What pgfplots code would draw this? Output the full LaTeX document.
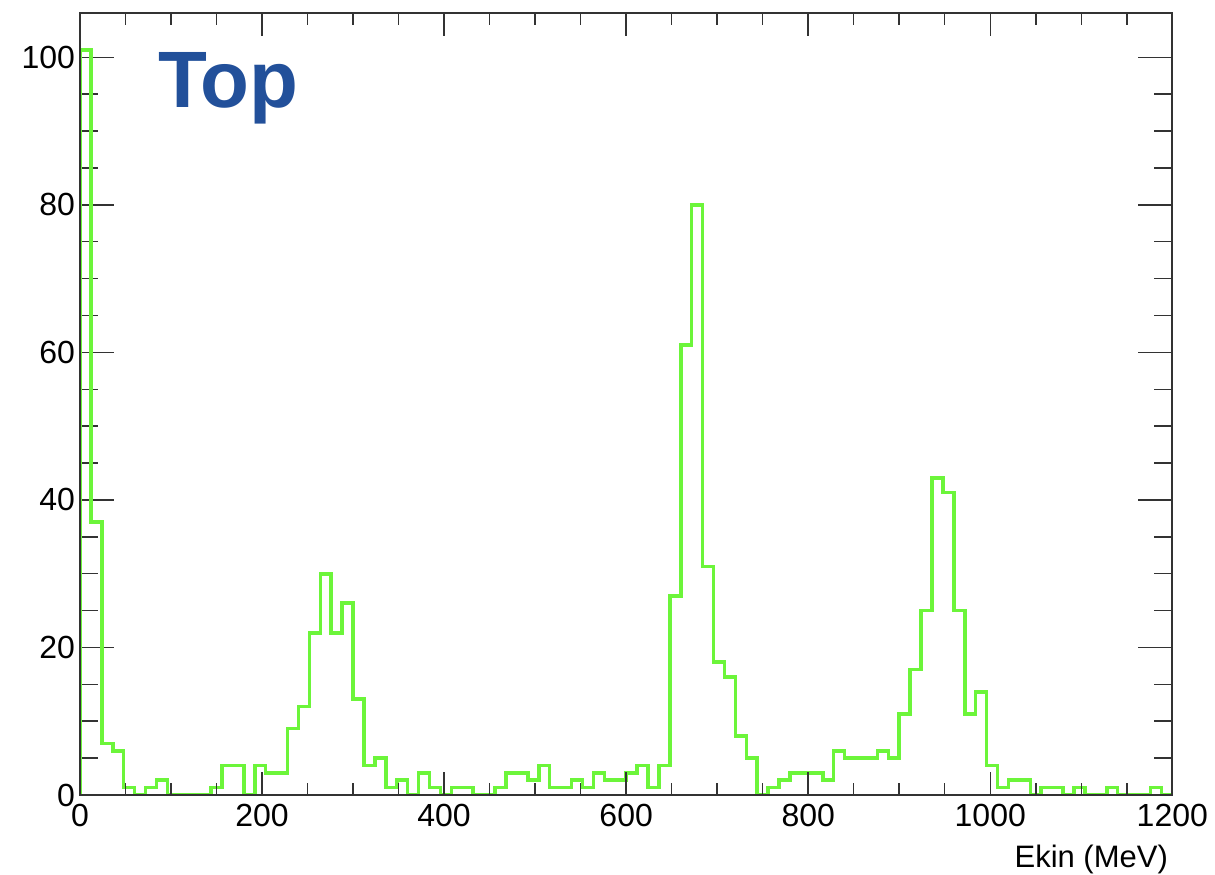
\documentclass[border=0pt]{standalone}
\usepackage{fontspec}
\setmainfont{Liberation Sans}
\usepackage{pgfplots}
\pgfplotsset{compat=1.18}
\usetikzlibrary{calc}
\definecolor{histgreen}{HTML}{6CF53A}
\definecolor{topblue}{HTML}{22509A}
\definecolor{frame}{HTML}{333333}
\pgfplotsset{
  rootframe/.style={
    scale only axis, width=546.15pt, height=391.15pt,
    xmin=0, xmax=1200, ymin=0, ymax=106.05,
    tick align=inside, tick pos=both,
    axis line style={frame, line width=1pt},
    every tick/.style={frame, line width=0.75pt},
    tick label style={font=\fontsize{16}{19}\selectfont},
    /pgf/number format/assume math mode=true,
    /pgf/number format/1000 sep={},
  },
}
\begin{document}
\begin{tikzpicture}
% y ticks, histogram, label
\begin{axis}[rootframe, name=ax,
  xtick=\empty,
  ytick={0,20,...,100}, minor y tick num=3,
  major tick length=17pt, minor tick length=9pt,
  yticklabel style={xshift=1pt}]
\addplot[histgreen, line width=1.8pt, const plot mark left] coordinates {
(0,0) (0,101) (12,37) (24,7) (36,6) (48,1) (60,0) (72,1) (84,2) (96,0) (108,0)
(120,0) (132,0) (144,1) (156,4) (168,4) (180,0) (192,4) (204,3) (216,3) (228,9)
(240,12) (252,22) (264,30) (276,22) (288,26) (300,13) (312,4) (324,5) (336,1) (348,2)
(360,0) (372,3) (384,1) (396,0) (408,1) (420,1) (432,0) (444,0) (456,1) (468,3)
(480,3) (492,2) (504,4) (516,1) (528,1) (540,2) (552,1) (564,3) (576,2) (588,2)
(600,3) (612,4) (624,1) (636,4) (648,27) (660,61) (672,80) (684,31) (696,18) (708,16)
(720,8) (732,5) (744,0) (756,1) (768,2) (780,3) (792,3) (804,3) (816,2) (828,6)
(840,5) (852,5) (864,5) (876,6) (888,5) (900,11) (912,17) (924,25) (936,43) (948,41)
(960,25) (972,11) (984,14) (996,4) (1008,1) (1020,2) (1032,2) (1044,0) (1056,1) (1068,1)
(1080,0) (1092,1) (1104,0) (1116,0) (1128,1) (1140,0) (1152,0) (1164,0) (1176,1) (1188,0)
(1200,0)};
\node[anchor=north west, inner sep=0pt, text=topblue,
  font=\fontsize{40}{48}\selectfont\bfseries, xshift=38.8pt, yshift=-19.5pt]
  at (rel axis cs:0,1) {Top};
\end{axis}
% x ticks and x label
\begin{axis}[rootframe,
  ytick=\empty,
  xtick={0,200,...,1200}, minor x tick num=3,
  major tick length=11.5pt, minor tick length=6pt,
  xticklabel style={yshift=-1pt},
  xlabel={Ekin (MeV)},
  xlabel style={at={(rel axis cs:1,0)}, anchor=north east, inner sep=0pt,
    xshift=-2pt, yshift=-25pt, font=\fontsize{15.5}{18}\selectfont}]
\end{axis}
\pgfresetboundingbox
\path ($(ax.south west)+(-40pt,-39.5pt)$) rectangle ($(ax.north east)+(21.35pt,6.35pt)$);
\end{tikzpicture}
\end{document}
